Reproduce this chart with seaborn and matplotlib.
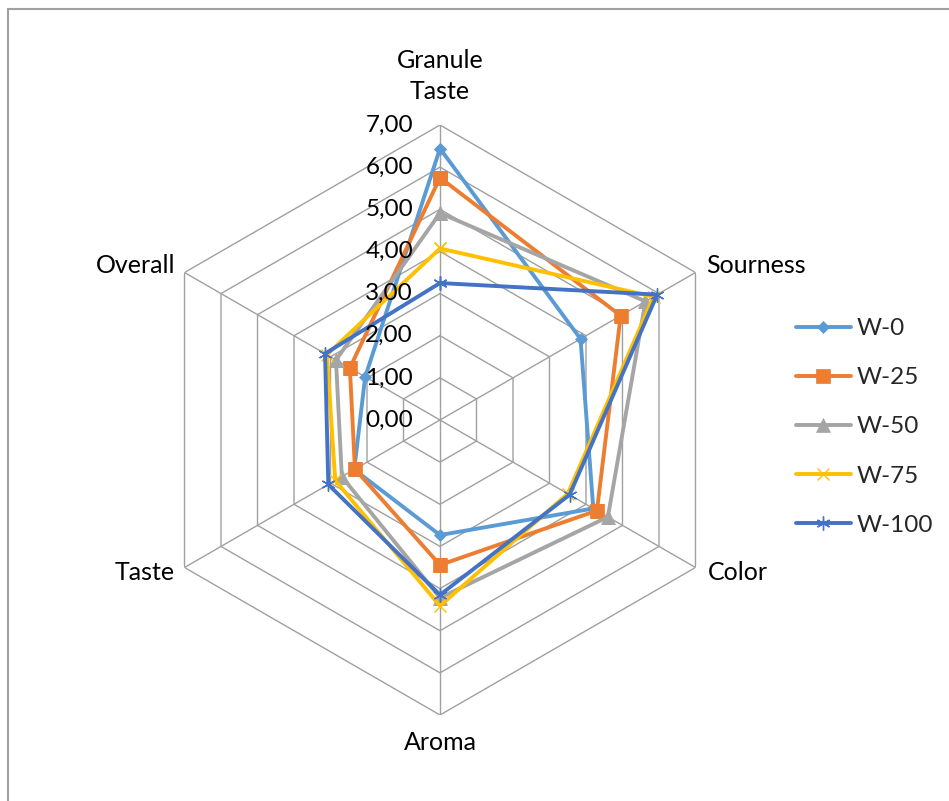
import numpy as np
import pandas as pd
import matplotlib
matplotlib.use("Agg")
import matplotlib.pyplot as plt
from matplotlib.patches import Rectangle
import seaborn as sns

categories = ["Granule\nTaste", "Sourness", "Color", "Aroma", "Taste", "Overall"]
series_names = ["W-0", "W-25", "W-50", "W-75", "W-100"]
w0 = [6.44, 3.85, 4.20, 2.73, 2.35, 2.05]
w25 = [5.75, 4.95, 4.30, 3.44, 2.33, 2.47]
w50 = [4.91, 5.63, 4.60, 4.22, 2.69, 2.85]
w75 = [4.07, 5.85, 3.50, 4.41, 2.87, 3.10]
w100 = [3.25, 5.95, 3.55, 4.15, 3.06, 3.15]
levels = [0, 1, 2, 3, 4, 5, 6, 7]
level_labels = ["0,00", "1,00", "2,00", "3,00", "4,00", "5,00", "6,00", "7,00"]

colors = ["#5B9BD5", "#ED7D31", "#A5A5A5", "#FFC000", "#4472C4"]
markers = ["D", "s", "^", "x", (6, 2, 0)]
msizes = [6.5, 9.5, 9.5, 9, 10]
series = [w0, w25, w50, w75, w100]

sns.set_theme(style="white")
plt.rcParams['font.family'] = ['Lato', 'DejaVu Sans']

W, H = 949, 801
fig = plt.figure(figsize=(W / 100, H / 100), dpi=100)
fig.patch.set_facecolor("white")

cx, cy, R = 440, 420, 295
ax = fig.add_axes([(cx - R) / W, (H - cy - R) / H, 2 * R / W, 2 * R / H], projection="polar")
ax.set_theta_offset(np.pi / 2)
ax.set_theta_direction(-1)
ax.grid(False)
ax.spines['polar'].set_visible(False)
ax.patch.set_visible(False)
ax.set_xticks([])
ax.set_yticks([])

n = len(categories)
theta = np.linspace(0, 2 * np.pi, n, endpoint=False)
theta_c = np.append(theta, 2 * np.pi)

gcol = "#A0A0A0"
for lv in levels[1:]:
    ax.plot(theta_c, [lv] * (n + 1), color=gcol, lw=1, zorder=1)
for t in theta:
    ax.plot([t, t], [0, levels[-1]], color=gcol, lw=1, zorder=1)

for name, vals, c, m, ms in zip(series_names, series, colors, markers, msizes):
    df = pd.DataFrame({"theta": theta_c, "value": list(vals) + [vals[0]]})
    thin = m in ("x",) or isinstance(m, tuple)
    sns.lineplot(data=df, x="theta", y="value", ax=ax, sort=False, estimator=None,
                 errorbar=None, color=c, linewidth=2.8, marker=m, markersize=ms,
                 markeredgecolor=c, markerfacecolor=c,
                 markeredgewidth=1.0 if thin else 0.5, label=name, zorder=3)

ax.set_ylim(0, levels[-1])
ax.set_xlabel("")
ax.set_ylabel("")

fs = 17.5
for lv, lab in zip(levels, level_labels):
    ax.annotate(lab, xy=(0, lv), xytext=(-27, 0), textcoords="offset pixels",
                ha="right", va="center", fontsize=fs, color="#000000", zorder=5)

offsets = [(0, 49, "center"), (11, 7, "left"), (12, -5, "left"),
           (0, -28, "center"), (-10, -5, "right"), (-9, 7, "right")]
for t, lab, (dx, dy, ha) in zip(theta, categories, offsets):
    ax.annotate(lab, xy=(t, levels[-1]), xytext=(dx, dy), textcoords="offset pixels",
                ha=ha, va="center", fontsize=18, color="#000000", linespacing=1.45,
                annotation_clip=False)

leg = ax.legend(loc="upper left", bbox_to_anchor=(796 / W, 1 - 318 / H),
                bbox_transform=fig.transFigure, frameon=False, fontsize=fs,
                handlelength=2.25, handletextpad=0.25, labelspacing=1.16,
                borderpad=0, borderaxespad=0)

fig.add_artist(Rectangle((8 / W, -0.1), 2, 1.1 - 9 / H, transform=fig.transFigure,
                         fill=False, edgecolor="#A0A0A0", lw=1.5))

fig.savefig("out.png", dpi=100)
